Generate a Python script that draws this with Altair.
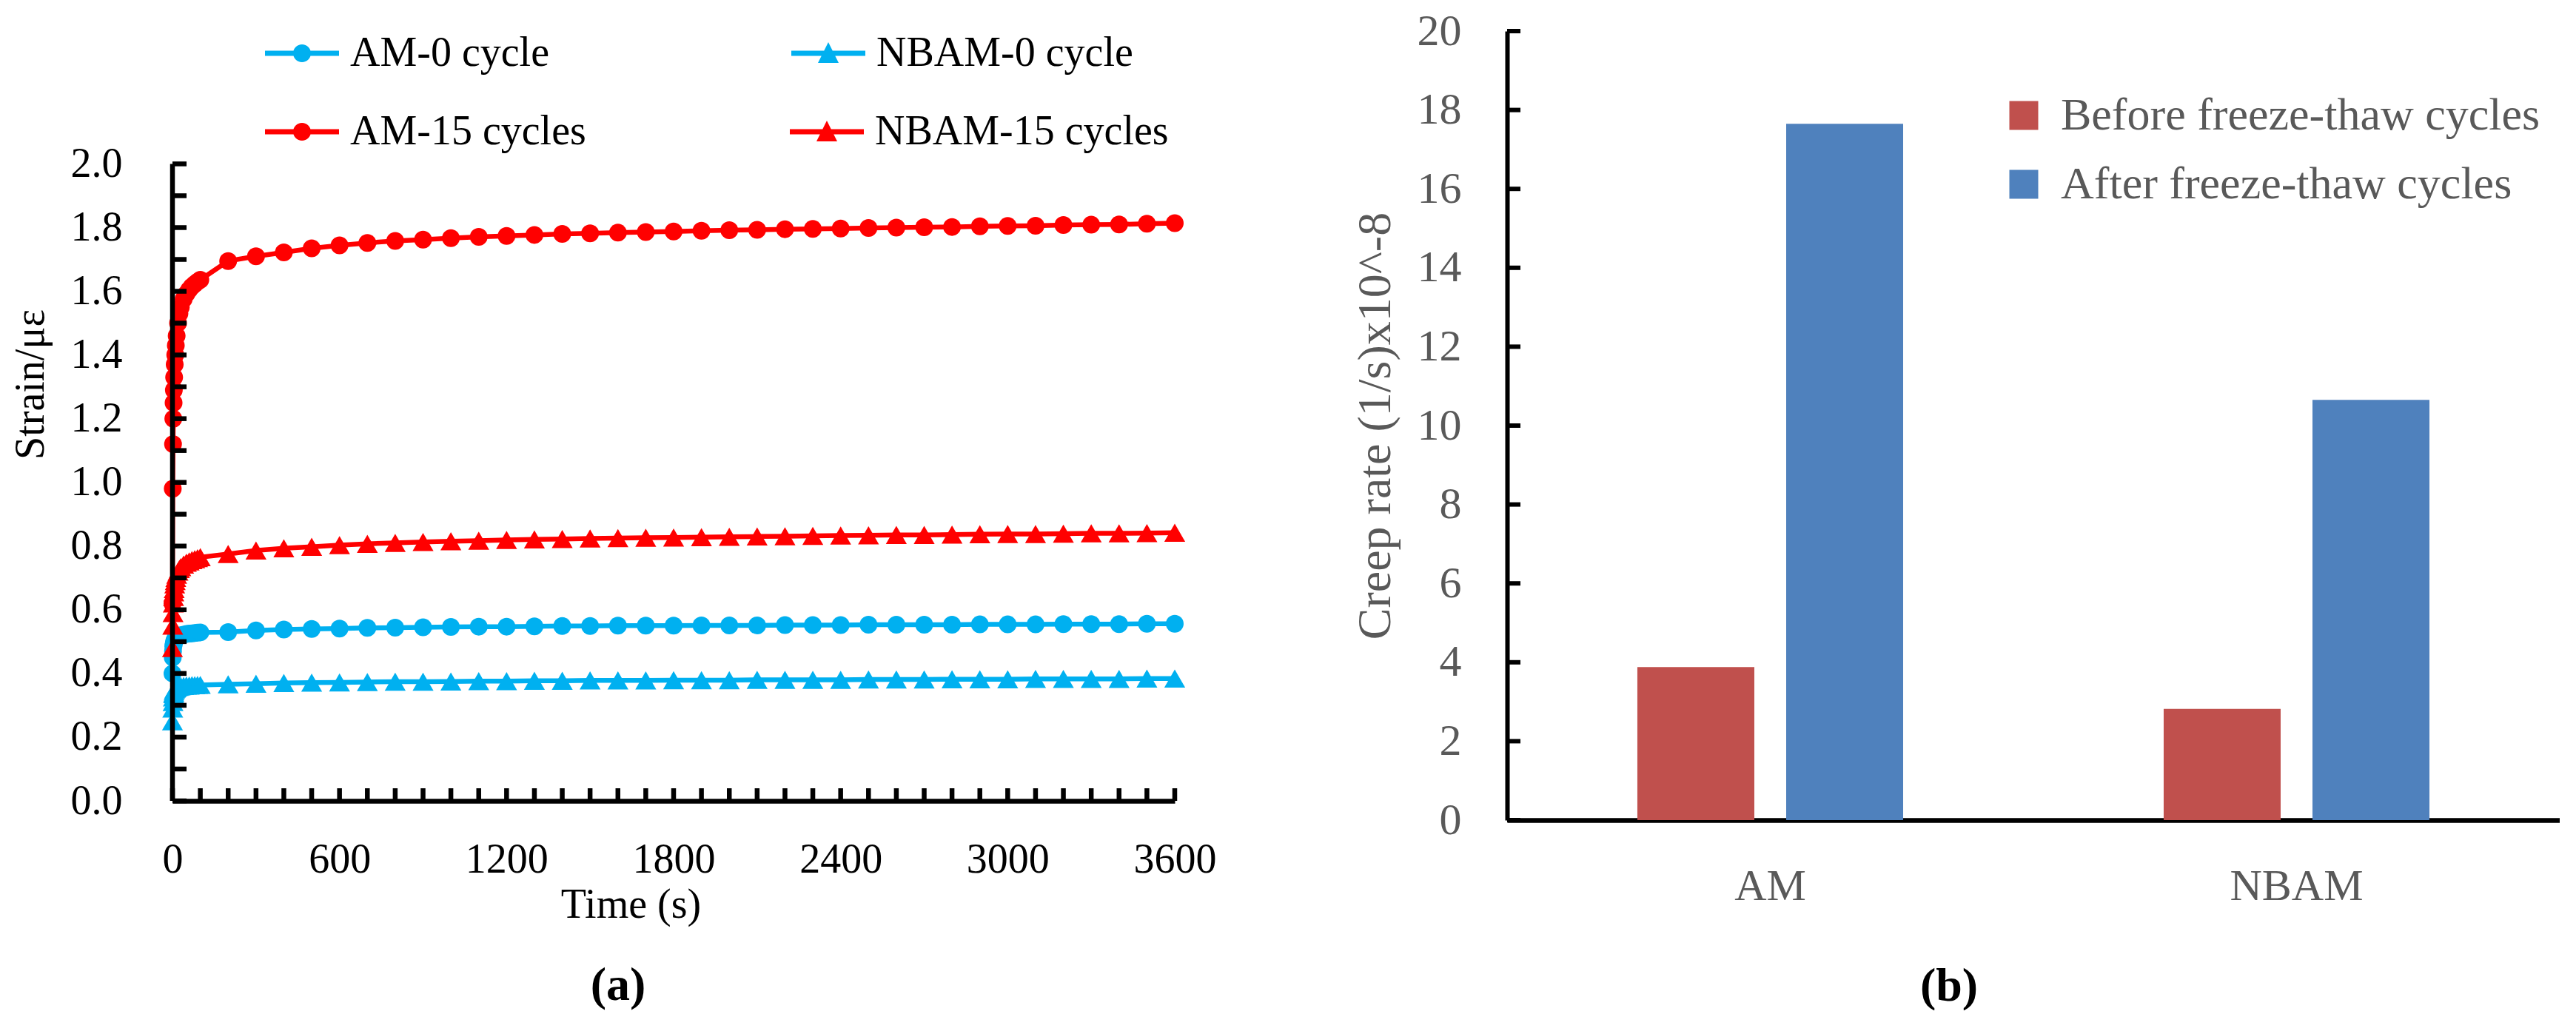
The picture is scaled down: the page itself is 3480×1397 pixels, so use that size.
import altair as alt
import pandas as pd

FONT = "Liberation Serif"

# ---------------- Panel (a) data ----------------
time_s = [0, 1, 2, 3, 4, 5, 6, 8, 10, 12, 15, 20, 25, 30, 40, 50, 60, 70, 80, 90, 100,
          200, 300, 400, 500, 600, 700, 800, 900, 1000, 1100, 1200, 1300, 1400, 1500,
          1600, 1700, 1800, 1900, 2000, 2100, 2200, 2300, 2400, 2500, 2600, 2700, 2800,
          2900, 3000, 3100, 3200, 3300, 3400, 3500, 3600]

am_0 = [0.40, 0.45, 0.47, 0.485, 0.49, 0.495, 0.50, 0.505, 0.508, 0.51, 0.513, 0.516, 0.518,
        0.52, 0.522, 0.524, 0.525, 0.526, 0.527, 0.528, 0.529,
        0.530, 0.535, 0.538, 0.540, 0.541, 0.543, 0.544, 0.545, 0.546, 0.547, 0.547, 0.548,
        0.549, 0.549, 0.550, 0.550, 0.550, 0.551, 0.551, 0.551, 0.552, 0.552, 0.552, 0.553,
        0.553, 0.553, 0.553, 0.554, 0.554, 0.554, 0.555, 0.555, 0.555, 0.556, 0.556]

nbam_0 = [0.25, 0.29, 0.31, 0.325, 0.335, 0.34, 0.345, 0.35, 0.352, 0.354, 0.356, 0.358, 0.359,
          0.36, 0.361, 0.362, 0.362, 0.363, 0.363, 0.364, 0.364,
          0.366, 0.368, 0.370, 0.371, 0.372, 0.373, 0.374, 0.374, 0.375, 0.376, 0.376, 0.377,
          0.377, 0.378, 0.378, 0.378, 0.379, 0.379, 0.379, 0.380, 0.380, 0.380, 0.380, 0.381,
          0.381, 0.381, 0.382, 0.382, 0.382, 0.383, 0.383, 0.383, 0.383, 0.384, 0.384]

am_15 = [0.62, 0.98, 1.12, 1.20, 1.25, 1.29, 1.33, 1.37, 1.40, 1.43, 1.46, 1.50, 1.53,
         1.55, 1.575, 1.592, 1.605, 1.615, 1.623, 1.63, 1.636,
         1.695, 1.710, 1.722, 1.735, 1.744, 1.752, 1.758, 1.762, 1.767, 1.771, 1.774, 1.777,
         1.780, 1.782, 1.784, 1.786, 1.788, 1.790, 1.792, 1.793, 1.795, 1.796, 1.797, 1.799,
         1.800, 1.801, 1.802, 1.804, 1.805, 1.806, 1.808, 1.809, 1.810, 1.812, 1.814]

nbam_15 = [0.48, 0.55, 0.59, 0.62, 0.64, 0.655, 0.665, 0.68, 0.69, 0.70, 0.71, 0.72, 0.728,
           0.734, 0.742, 0.748, 0.752, 0.756, 0.759, 0.762, 0.765,
           0.775, 0.786, 0.793, 0.798, 0.803, 0.807, 0.810, 0.813, 0.815, 0.817, 0.819, 0.821,
           0.822, 0.824, 0.825, 0.826, 0.827, 0.828, 0.829, 0.830, 0.831, 0.832, 0.833, 0.834,
           0.835, 0.835, 0.836, 0.837, 0.838, 0.838, 0.839, 0.840, 0.840, 0.841, 0.842]

series_names = ["AM-0 cycle", "NBAM-0 cycle", "AM-15 cycles", "NBAM-15 cycles"]
series_kind = ["AM", "NBAM", "AM", "NBAM"]
series_colors = ["#00B0F0", "#00B0F0", "#FF0000", "#FF0000"]
blue_series = ["AM-0 cycle", "NBAM-0 cycle"]
red_series = ["AM-15 cycles", "NBAM-15 cycles"]

x_labels = [0, 600, 1200, 1800, 2400, 3000, 3600]
x_ticks = [0, 100, 200, 300, 400, 500, 600, 700, 800, 900, 1000, 1100, 1200, 1300, 1400,
           1500, 1600, 1700, 1800, 1900, 2000, 2100, 2200, 2300, 2400, 2500, 2600, 2700,
           2800, 2900, 3000, 3100, 3200, 3300, 3400, 3500, 3600]
y_labels = [0.0, 0.2, 0.4, 0.6, 0.8, 1.0, 1.2, 1.4, 1.6, 1.8, 2.0]
y_ticks = [0.0, 0.1, 0.2, 0.3, 0.4, 0.5, 0.6, 0.7, 0.8, 0.9, 1.0, 1.1, 1.2, 1.3, 1.4, 1.5,
           1.6, 1.7, 1.8, 1.9, 2.0]
y_axis_range = [0.0, 2.0]

# ---------------- Panel (b) data ----------------
groups = ["AM", "NBAM"]
conditions = ["Before freeze-thaw cycles", "After freeze-thaw cycles"]
before_vals = [3.88, 2.82]
after_vals = [17.65, 10.65]
bar_colors = ["#C0504D", "#4F81BD"]
b_labels = [0, 2, 4, 6, 8, 10, 12, 14, 16, 18, 20]

# ---------------- build tables ----------------
rows = []
for name, kind, vals in zip(series_names, series_kind, [am_0, nbam_0, am_15, nbam_15]):
    for t, v in zip(time_s, vals):
        rows.append({"series": name, "kind": kind, "time": t, "strain": v})
df_a = pd.DataFrame(rows)

rows_b = []
for g, bv, av in zip(groups, before_vals, after_vals):
    rows_b.append({"group": g, "condition": conditions[0], "rate": bv})
    rows_b.append({"group": g, "condition": conditions[1], "rate": av})
df_b = pd.DataFrame(rows_b)

# ---------------- Panel (a) ----------------
WA, HA = 1354, 1040
xs = alt.Scale(domain=[0, 3600], nice=False, zero=False)
ys = alt.Scale(domain=[0, 2.417], nice=False, zero=True)
cscale = alt.Scale(domain=series_names, range=series_colors)

x_axis = alt.Axis(values=x_labels, format="d", title="Time (s)", ticks=False, grid=False,
                  domainColor="black", domainWidth=6.5, labelFont=FONT, labelFontSize=56,
                  labelColor="black", labelPadding=52, labelFlush=False, labelLimit=0,
                  titleFont=FONT, titleFontSize=56, titleFontWeight="normal",
                  titleColor="black", titleX=619, titleY=140, titleBaseline="middle")
y_axis = alt.Axis(values=y_labels, format=".1f", title="Strain/με", ticks=False, grid=False,
                  domain=False, labelFont=FONT, labelFontSize=56,
                  labelColor="black", labelPadding=68, labelLimit=0,
                  titleFont=FONT, titleFontSize=56, titleFontWeight="normal",
                  titleColor="black", titleX=-192, titleY=477, titleBaseline="middle",
                  titleAngle=270)

X = alt.X("time:Q", scale=xs, axis=x_axis)
Y = alt.Y("strain:Q", scale=ys, axis=y_axis)
C = alt.Color("series:N", scale=cscale, legend=None)

base_a = alt.Chart(df_a)
lines = base_a.mark_line(strokeWidth=6.5).encode(x=X, y=Y, color=C)
circles = base_a.transform_filter("datum.kind == 'AM'").mark_circle(
    size=576, opacity=1).encode(x=X, y=Y, color=C)
triangles = base_a.transform_filter("datum.kind == 'NBAM'").mark_point(
    shape="triangle-up", filled=True, size=800, opacity=1, strokeWidth=0).encode(
    x=X, y=Y, color=C)

path_circle = ("M-1,-0.07 L1,-0.07 L1,0.07 L-1,0.07 Z "
               "M0.24,0 A0.24,0.24 0 1,1 -0.24,0 A0.24,0.24 0 1,1 0.24,0 Z")
path_tri = ("M-1,-0.07 L1,-0.07 L1,0.07 L-1,0.07 Z "
            "M0,-0.3 L0.28,0.26 L-0.28,0.26 Z")


def legend_row(names, colour, ly, colpad):
    leg = alt.Legend(orient="none", legendX=125, legendY=ly, direction="horizontal",
                     columnPadding=colpad, symbolSize=10000, labelFont=FONT,
                     labelFontSize=56, labelColor="black", labelOffset=15, title=None,
                     symbolStrokeWidth=0, labelLimit=0)
    return base_a.transform_filter("datum.time < 0").mark_point(
        filled=True, size=10000, opacity=1, strokeWidth=0, color=colour).encode(
        x=X, y=Y,
        shape=alt.Shape("series:N", scale=alt.Scale(domain=names,
                        range=[path_circle, path_tri]), legend=leg),
    )


leg_blue = legend_row(blue_series, "#00B0F0", -20, 326)
leg_red = legend_row(red_series, "#FF0000", 86, 275)

xt_rules = alt.Chart(pd.DataFrame({"time": x_ticks})).mark_rule(
    color="black", strokeWidth=6.5).encode(x=X, y=alt.value(HA), y2=alt.value(HA - 17))
yt_rules = alt.Chart(pd.DataFrame({"strain": y_ticks})).mark_rule(
    color="black", strokeWidth=6.5).encode(y=Y, x=alt.value(0), x2=alt.value(19))
y_line = alt.Chart(pd.DataFrame({"strain": [y_axis_range[0]], "top": [y_axis_range[1]]})).mark_rule(
    color="black", strokeWidth=6.5).encode(y=Y, y2="top:Q", x=alt.value(0))

panel_a = alt.layer(lines, circles, triangles, leg_blue, leg_red, xt_rules, yt_rules,
                    y_line).resolve_scale(shape="independent").properties(
    width=WA, height=HA,
    title=alt.TitleParams("(a)", orient="bottom", font=FONT, fontSize=64, fontWeight="bold",
                          color="black", offset=50, dx=-75, anchor="middle"),
)

# ---------------- Panel (b) ----------------
WB, HB = 1422, 1066
ysb = alt.Scale(domain=[0, 20], nice=False)
yb_axis = alt.Axis(values=b_labels, title="Creep rate (1/s)x10^-8", ticks=False,
                   grid=False, domainColor="black", domainWidth=6, labelFont=FONT,
                   labelFontSize=60, labelColor="#595959", labelPadding=62, labelLimit=0,
                   titleFont=FONT, titleFontSize=64, titleFontWeight="normal",
                   titleColor="#595959", titleX=-178, titleY=533,
                   titleBaseline="middle", titleAngle=270)
YB = alt.Y("rate:Q", scale=ysb, axis=yb_axis)
bars = alt.Chart(df_b).mark_bar().encode(
    x=alt.X("group:N", sort=groups,
            scale=alt.Scale(domain=groups, paddingInner=0.495, paddingOuter=0.2475),
            axis=alt.Axis(title=None, labelAngle=0, ticks=False, domainColor="black",
                          domainWidth=6.5, labelFont=FONT, labelFontSize=60, labelLimit=0,
                          labelColor="#595959", labelPadding=60)),
    xOffset=alt.XOffset("condition:N", sort=conditions,
                        scale=alt.Scale(domain=conditions, paddingInner=0.214, paddingOuter=0)),
    y=YB,
    color=alt.Color("condition:N",
                    scale=alt.Scale(domain=conditions, range=bar_colors),
                    legend=alt.Legend(orient="none", legendX=667, legendY=83, title=None,
                                      symbolType="square", symbolSize=1521, labelFont=FONT,
                                      labelFontSize=62, labelColor="#595959", labelOffset=19,
                                      rowPadding=31, symbolStrokeWidth=0, labelLimit=0)),
)
yb_rules = alt.Chart(pd.DataFrame({"rate": b_labels})).mark_rule(
    color="black", strokeWidth=6).encode(y=YB, x=alt.value(0), x2=alt.value(18))
panel_b = alt.layer(bars, yb_rules).properties(
    width=WB, height=HB,
    title=alt.TitleParams("(b)", orient="bottom", font=FONT, fontSize=64, fontWeight="bold",
                          color="black", offset=74, dx=-114, anchor="middle"),
)

chart = alt.hconcat(panel_a, panel_b, spacing=183).properties(
    padding={"left": 5, "top": 4, "right": 0, "bottom": 0}
).configure_view(stroke=None).resolve_scale(color="independent")

chart.save("out.html", embed_options={"renderer": "svg", "actions": False})
